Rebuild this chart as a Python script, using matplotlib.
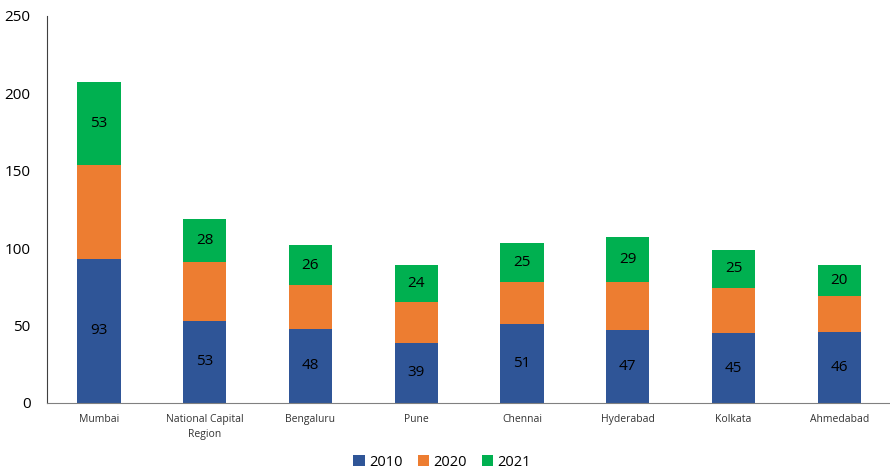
import matplotlib
matplotlib.use("Agg")
import matplotlib.pyplot as plt
import numpy as np

cities = ["Mumbai", "National Capital\nRegion", "Bengaluru", "Pune", "Chennai",
          "Hyderabad", "Kolkata", "Ahmedabad"]
v2010 = [93, 53, 48, 39, 51, 47, 45, 46]
v2020 = [61, 38, 28, 26, 27, 31, 29, 23]
v2021 = [53, 28, 26, 24, 25, 29, 25, 20]
series_names = ["2010", "2020", "2021"]
colors = ["#2F5597", "#ED7D31", "#00B050"]

plt.rcParams['font.family'] = ['Open Sans', 'DejaVu Sans']

fig = plt.figure(figsize=(8.9, 4.69), dpi=100)
ax = fig.add_axes([0.053, 0.141, 0.947, 0.825])

x = np.arange(len(cities))
width = 0.41
bottom = np.zeros(len(cities))
bars = []
for vals, col, name in zip([v2010, v2020, v2021], colors, series_names):
    b = ax.bar(x, vals, width, bottom=bottom, color=col, label=name)
    bars.append(b)
    bottom += np.array(vals)

for b, vals in ((bars[0], v2010), (bars[2], v2021)):
    ax.bar_label(b, labels=[str(v) for v in vals], label_type='center',
                 fontsize=11, color='black')

ax.set_xlim(-0.49, 7.48)
ax.set_ylim(0, 250)
ax.set_yticks([0, 50, 100, 150, 200, 250])
ax.tick_params(axis='y', length=0, labelsize=11, pad=12)
ax.tick_params(axis='x', length=0, labelsize=7.5, pad=8, labelcolor='#333333')
ax.set_xticks(x)
ax.set_xticklabels(cities, linespacing=1.5)

for s in ("top", "right"):
    ax.spines[s].set_visible(False)
ax.spines["left"].set_color("#404040")
ax.spines["bottom"].set_color("#808080")

fig.legend(loc='lower center', bbox_to_anchor=(0.497, -0.03), ncol=3, frameon=False,
           fontsize=10.5, handlelength=0.8, handleheight=0.8, handletextpad=0.3,
           columnspacing=1.0)

fig.savefig("out.png", dpi=100)
